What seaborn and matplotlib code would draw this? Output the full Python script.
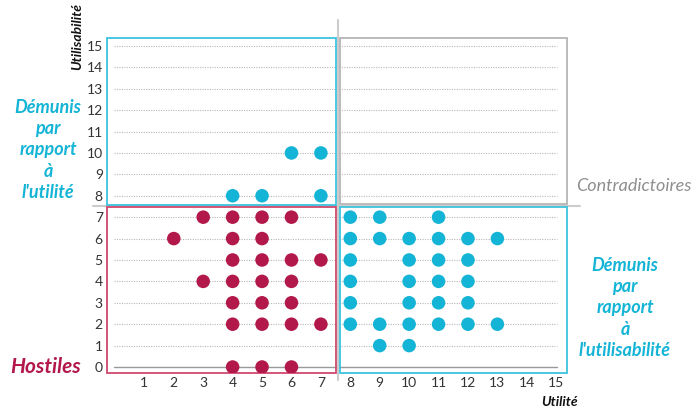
import matplotlib
matplotlib.use("Agg")
import matplotlib.pyplot as plt
import seaborn as sns
import pandas as pd
from matplotlib.patches import Rectangle

# --- data ---
hostile_x = [3, 4, 5, 6, 2, 4, 5, 4, 5, 6, 7, 3, 4, 5, 6, 4, 5, 6, 4, 5, 6, 7, 4, 5, 6]
hostile_y = [7, 7, 7, 7, 6, 6, 6, 5, 5, 5, 5, 4, 4, 4, 4, 3, 3, 3, 2, 2, 2, 2, 0, 0, 0]

demunis_x = [4, 5, 7, 6, 7,
             8, 9, 11,
             8, 9, 10, 11, 12, 13,
             8, 10, 11, 12,
             8, 10, 11, 12,
             8, 10, 11, 12,
             8, 9, 10, 11, 12, 13,
             9, 10]
demunis_y = [8, 8, 8, 10, 10,
             7, 7, 7,
             6, 6, 6, 6, 6, 6,
             5, 5, 5, 5,
             4, 4, 4, 4,
             3, 3, 3, 3,
             2, 2, 2, 2, 2, 2,
             1, 1]

x_ticks = list(range(1, 16))
y_ticks = list(range(0, 16))

CYAN = "#14b4d6"
RED = "#b3184a"
GREY = "#9a9a9a"

df = pd.DataFrame({
    "Utilité": hostile_x + demunis_x,
    "Utilisabilité": hostile_y + demunis_y,
    "groupe": ["Hostiles"] * len(hostile_x) + ["Démunis"] * len(demunis_x),
})

sns.set_style("white")
plt.rcParams["font.family"] = ["Lato", "DejaVu Sans"]

fig = plt.figure(figsize=(6.96, 4.12), dpi=100)
# axes placed in pixel terms: left 107, right 568, top 38, bottom 373
ax = fig.add_axes([107 / 696, 1 - 373 / 412, (568 - 107) / 696, (373 - 38) / 412])
ax.set_xlim(-0.27, 15.4)
ax.set_ylim(-0.28, 15.37)

# grid lines
for y in y_ticks[1:]:
    ax.plot([-0.03, 15.03], [y, y], color="#b8b8b8", lw=0.8, ls=(0, (1, 1.2)), zorder=1)
ax.plot([-0.03, 15.03], [0, 0], color="#999999", lw=1.0, zorder=1)

sns.scatterplot(data=df, x="Utilité", y="Utilisabilité", hue="groupe",
                palette={"Hostiles": RED, "Démunis": CYAN}, s=95,
                linewidth=0, legend=False, ax=ax, zorder=3)

# quadrant boxes
ax.add_patch(Rectangle((-0.27, 7.57), 7.79, 7.78, fill=False, ec="#3cc4de", lw=1.3, clip_on=False, zorder=2))
ax.add_patch(Rectangle((7.65, 7.6), 7.73, 7.75, fill=False, ec="#b5b5b5", lw=1.3, clip_on=False, zorder=2))
ax.add_patch(Rectangle((-0.27, -0.26), 7.79, 7.73, fill=False, ec="#d0486c", lw=1.3, clip_on=False, zorder=2))
ax.add_patch(Rectangle((7.65, -0.26), 7.73, 7.73, fill=False, ec="#3cc4de", lw=1.3, clip_on=False, zorder=2))

# dividers
ax.plot([7.58, 7.58], [-0.6, 16.2], color="#cccccc", lw=1.5, clip_on=False, zorder=1)
ax.plot([-0.75, 15.8], [7.52, 7.52], color="#cccccc", lw=1.5, clip_on=False, zorder=1)

for s in ax.spines.values():
    s.set_visible(False)
ax.set_xticks(x_ticks)
ax.set_yticks(y_ticks)
ax.tick_params(length=0, labelsize=10, labelcolor="#333333", pad=3)
ax.set_xlabel("")
ax.set_ylabel("")

# labels
txt = dict(fontstyle="italic", fontweight="bold")
fig.text(77 / 696, 1 - 37 / 412, "Utilisabilité", rotation=90, ha="center", va="center",
         fontsize=10, color="#111111", **txt)
fig.text(560 / 696, 1 - 402 / 412, "Utilité", ha="center", va="center",
         fontsize=10, color="#111111", **txt)
fig.text(48 / 696, 1 - 150 / 412, "Démunis\npar\nrapport\nà\nl'utilité", ha="center", va="center",
         fontsize=13, color=CYAN, linespacing=1.3, **txt)
fig.text(625 / 696, 1 - 308 / 412, "Démunis\npar\nrapport\nà\nl'utilisabilité", ha="center", va="center",
         fontsize=13, color=CYAN, linespacing=1.3, **txt)
fig.text(692 / 696, 1 - 186 / 412, "Contradictoires", ha="right", va="center",
         fontsize=13, color="#8f8f8f", fontstyle="italic")
fig.text(46 / 696, 1 - 367 / 412, "Hostiles", ha="center", va="center",
         fontsize=15, color=RED, **txt)

fig.savefig("out.png", dpi=100)
